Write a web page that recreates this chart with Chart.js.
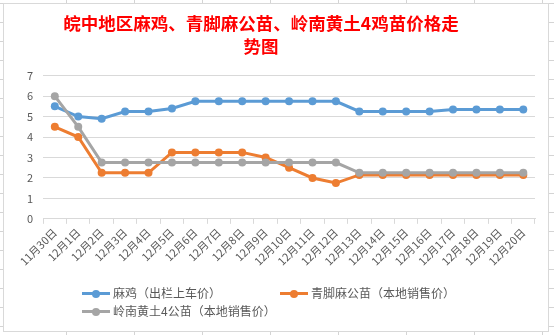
<!DOCTYPE html>
<html>
<head>
<meta charset="utf-8">
<script src="https://cdn.jsdelivr.net/npm/chart.js@4"></script>
<style>
  body {
    margin: 0;
    width: 554px;
    height: 335px;
    overflow: hidden;
    background-color: #fff;
    background-image:
      repeating-linear-gradient(to right, transparent 0, transparent 66px, #d4d4d4 66px, #d4d4d4 67px, transparent 67px, transparent 68px),
      repeating-linear-gradient(to bottom, transparent 0, transparent 3px, #d4d4d4 3px, #d4d4d4 4px, transparent 4px, transparent 19px);
    font-family: 'Noto Sans CJK SC', sans-serif;
  }
  #box {
    position: absolute;
    left: 3px; top: 3px;
    width: 546px; height: 329px;
    box-sizing: border-box;
    border: 1px solid #d9d9d9;
    background: #fff;
  }
  #tasksChart { position: absolute; left: 0; top: 0; }
  .leg { position: absolute; font-size: 12px; color: #595959; white-space: nowrap; line-height: 16px; }
  .leg .ln { display: inline-block; position: relative; width: 28px; height: 3px; vertical-align: middle; margin-right: 3px; top: -1px; }
  .leg .ln i { position: absolute; left: 10px; top: -2.5px; width: 8px; height: 8px; border-radius: 50%; background: inherit; }
</style>
</head>
<body>
<div id="box">
  <canvas id="tasksChart" width="544" height="327"></canvas>
  <div class="leg" style="left:78px; top:281px;"><span class="ln" style="background:#5b9bd5"><i></i></span>麻鸡（出栏上车价）</div>
  <div class="leg" style="left:276px; top:281px;"><span class="ln" style="background:#ed7d31"><i></i></span>青脚麻公苗（本地销售价）</div>
  <div class="leg" style="left:78px; top:299px;"><span class="ln" style="background:#a5a5a5"><i></i></span>岭南黄土4公苗（本地销售价）</div>
</div>
<script>
// Datos del grafico
const fechas = ['11月30日', '12月1日', '12月2日', '12月3日', '12月4日', '12月5日', '12月6日',
  '12月7日', '12月8日', '12月9日', '12月10日', '12月11日', '12月12日', '12月13日',
  '12月14日', '12月15日', '12月16日', '12月17日', '12月18日', '12月19日', '12月20日'];
const maJi = [5.5, 5.0, 4.9, 5.25, 5.25, 5.4, 5.75, 5.75, 5.75, 5.75, 5.75, 5.75, 5.75,
  5.25, 5.25, 5.25, 5.25, 5.35, 5.35, 5.35, 5.35];
const qingJiao = [4.5, 4.0, 2.25, 2.25, 2.25, 3.25, 3.25, 3.25, 3.25, 3.0, 2.5, 2.0, 1.75,
  2.15, 2.15, 2.15, 2.15, 2.15, 2.15, 2.15, 2.15];
const lingNan = [6.0, 4.5, 2.75, 2.75, 2.75, 2.75, 2.75, 2.75, 2.75, 2.75, 2.75, 2.75, 2.75,
  2.25, 2.25, 2.25, 2.25, 2.25, 2.25, 2.25, 2.25];
const yTicks = [0, 1, 2, 3, 4, 5, 6, 7];
const titulo = ['皖中地区麻鸡、青脚麻公苗、岭南黄土4鸡苗价格走', '势图'];

function serie(label, data, color, order) {
    return {
        label: label,
        data: data,
        borderColor: color,
        backgroundColor: color,
        borderWidth: 3,
        pointRadius: 4,
        pointHoverRadius: 4,
        pointBorderWidth: 0,
        tension: 0,
        order: order
    };
}

// el titulo va un poco a la izquierda del centro
const moverTitulo = {
    id: 'moverTitulo',
    afterLayout(chart) {
        if (chart.titleBlock) chart.titleBlock.right -= 30;
    }
};

const ctx = document.getElementById('tasksChart').getContext('2d');
new Chart(ctx, {
    type: 'line',
    data: {
        labels: fechas,
        datasets: [
            serie('麻鸡（出栏上车价）', maJi, '#5b9bd5', 2),
            serie('青脚麻公苗（本地销售价）', qingJiao, '#ed7d31', 1),
            serie('岭南黄土4公苗（本地销售价）', lingNan, '#a5a5a5', 0)
        ]
    },
    plugins: [moverTitulo],
    options: {
        responsive: false,
        animation: false,
        layout: { padding: { left: 13, right: 13, top: 0, bottom: 61 } },
        plugins: {
            legend: { display: false },
            tooltip: { enabled: false },
            title: {
                display: true,
                text: titulo,
                color: '#ff0000',
                font: { size: 17.5, weight: 'bold', family: "'Noto Sans CJK SC', sans-serif", lineHeight: 1.3 },
                padding: { top: 8, bottom: 18.2 }
            }
        },
        scales: {
            x: {
                offset: true,
                grid: {
                    offset: true,
                    drawOnChartArea: false,
                    drawTicks: true,
                    tickLength: 5,
                    tickColor: '#d9d9d9'
                },
                border: { display: true, color: '#d9d9d9' },
                ticks: {
                    autoSkip: false,
                    minRotation: 45,
                    maxRotation: 45,
                    padding: 2,
                    color: '#595959',
                    font: { size: 11, family: "'Noto Sans CJK SC', sans-serif" }
                }
            },
            y: {
                min: 0,
                max: 7,
                afterBuildTicks: (axis) => { axis.ticks = yTicks.map(v => ({ value: v })); },
                grid: { color: '#d9d9d9', drawTicks: false },
                border: { display: false },
                ticks: {
                    padding: 10,
                    color: '#595959',
                    font: { size: 11, family: "'Noto Sans CJK SC', sans-serif" }
                }
            }
        }
    }
});
</script>
</body>
</html>
